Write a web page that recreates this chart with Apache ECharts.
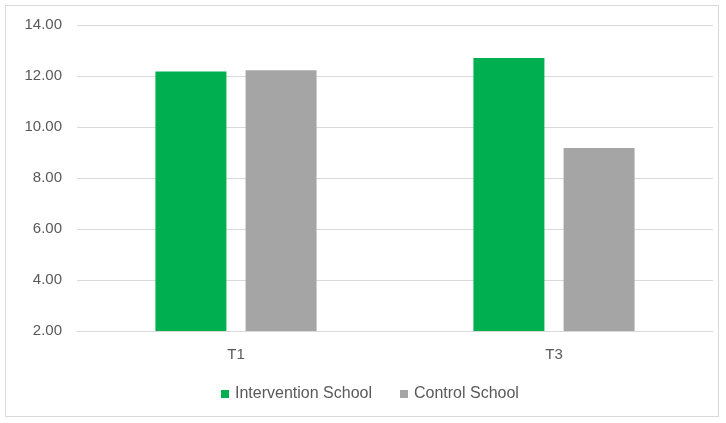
<!DOCTYPE html>
<html><head><meta charset="utf-8">
<script src="https://cdn.jsdelivr.net/npm/echarts@6/dist/echarts.min.js"></script>
<style>html,body{margin:0;padding:0;background:#fff}#c{width:726px;height:423px}
#frame{position:absolute;left:5px;top:5px;width:714px;height:412px;border:1px solid #d9d9d9;box-sizing:border-box;pointer-events:none}</style>
</head><body><div id="c"></div><div id="frame"></div>
<script>
const categories = ['T1', 'T3'];
const seriesNames = ['Intervention School', 'Control School'];
const intervention = [12.18, 12.71];
const control = [12.23, 9.18];
const yTicks = { min: 2, max: 14, interval: 2 };

const font = 'Liberation Sans';
const chart = echarts.init(document.getElementById('c'));
chart.setOption({
  animation: false,
  grid: { left: 77, right: 13, top: 25, bottom: 92 },
  legend: {
    top: 381, left: 216, itemWidth: 8, itemHeight: 8, itemGap: 28,
    icon: 'rect',
    textStyle: { color: '#595959', fontSize: 16, fontFamily: font, padding: [0, 0, 0, 1] },
    data: seriesNames
  },
  xAxis: {
    type: 'category', data: categories,
    axisLine: { lineStyle: { color: '#d9d9d9' } },
    axisTick: { show: false },
    axisLabel: { color: '#595959', fontSize: 15, fontFamily: font, margin: 16 }
  },
  yAxis: {
    type: 'value', min: yTicks.min, max: yTicks.max, interval: yTicks.interval,
    axisLine: { show: false }, axisTick: { show: false },
    splitLine: { lineStyle: { color: '#d9d9d9' } },
    axisLabel: { color: '#595959', fontSize: 15, fontFamily: font, margin: 15,
      formatter: v => v.toFixed(2) }
  },
  series: [
    { name: seriesNames[0], type: 'bar', data: intervention, barWidth: 71, barGap: '27%',
      itemStyle: { color: '#00b050' } },
    { name: seriesNames[1], type: 'bar', data: control, barWidth: 71,
      itemStyle: { color: '#a5a5a5' } }
  ]
});
</script></body></html>
